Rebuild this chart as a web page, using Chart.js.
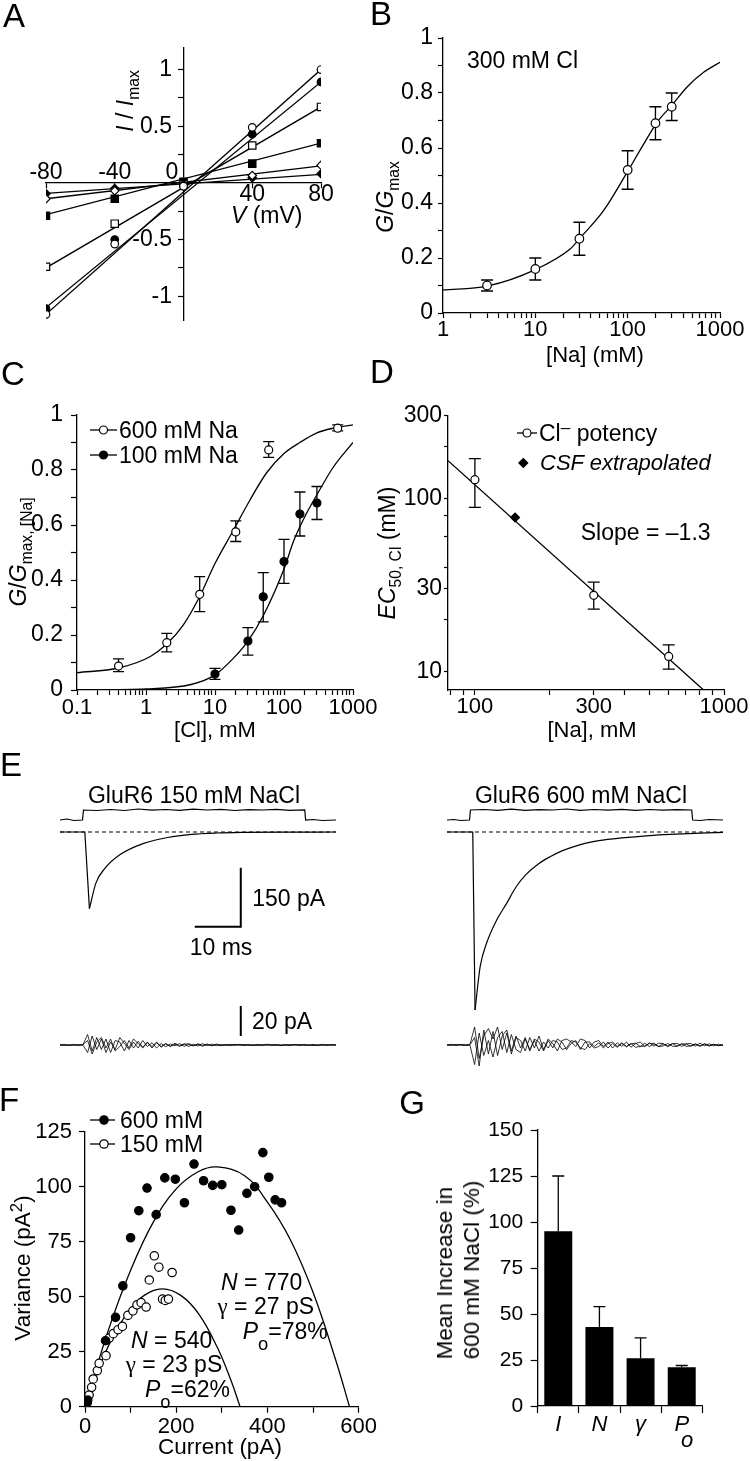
<!DOCTYPE html>
<html>
<head>
<meta charset="utf-8">
<title>GluR6 Na/Cl dependence</title>
<script src="https://cdn.jsdelivr.net/npm/chart.js@4.4.1/dist/chart.umd.min.js"></script>
<style>
html, body { margin:0; padding:0; background:#fff; }
#page { position:relative; width:750px; height:1461px; overflow:hidden; background:#fff; color:#000;
  font-family:'Liberation Sans', Arial, Helvetica, sans-serif; }
#page canvas { position:absolute; }
.t { position:absolute; white-space:nowrap; line-height:1; }
.sub { position:relative; top:0.38em; font-size:0.68em; }
.sup { position:relative; top:-0.45em; font-size:0.75em; }
.serif { font-family:'Liberation Serif', 'Times New Roman', serif; }
svg.mk { position:absolute; overflow:visible; }
</style>
</head>
<body>
<div id="page"></div>
<script>
// ================= DATA =================
// ---- Panel A : normalised I-V relations ----
const ivVoltage       = [-80, -40, 0, 40, 80];
const ivOpenCircle    = [-1.16, -0.54, -0.03, 0.49, 1.00];
const ivFilledCircle  = [-1.11, -0.50, -0.02, 0.43, 0.89];
const ivOpenSquare    = [-0.74, -0.36, -0.01, 0.33, 0.67];
const ivFilledSquare  = [-0.29, -0.14, 0.01, 0.17, 0.35];
const ivOpenDiamond   = [-0.14, -0.07, 0.00, 0.065, 0.155];
const ivFilledDiamond = [-0.095, -0.05, 0.00, 0.045, 0.08];
const ivFitVoltage       = [-80, 80];
const ivFitOpenCircle    = [-1.16, 1.00];
const ivFitFilledCircle  = [-1.10, 0.89];
const ivFitOpenSquare    = [-0.75, 0.67];
const ivFitFilledSquare  = [-0.28, 0.35];
const ivFitOpenDiamond   = [-0.14, 0.15];
const ivFitFilledDiamond = [-0.093, 0.075];
const ivXTicks  = [-80, -40, 0, 40, 80];
const ivYTicks  = [-1, -0.75, -0.5, -0.25, 0, 0.25, 0.5, 0.75, 1];
const ivYLabels = [-1, -0.5, 0.5, 1];

// ---- Panel B : G/Gmax vs [Na] at 300 mM Cl ----
const bNa     = [3, 10, 30, 100, 200, 300];
const bG      = [0.10, 0.16, 0.27, 0.52, 0.69, 0.75];
const bGLow   = [0.08, 0.12, 0.21, 0.45, 0.63, 0.70];
const bGHigh  = [0.12, 0.20, 0.33, 0.59, 0.75, 0.80];
const bFitNa  = [1, 3, 10, 24, 30, 55, 100, 150, 210, 300, 440, 670, 1000];
const bFitG   = [0.084, 0.098, 0.158, 0.234, 0.27, 0.373, 0.515, 0.616, 0.695, 0.755, 0.822, 0.876, 0.912];
const logTicks1to1000  = [1,2,3,4,5,6,7,8,9,10,20,30,40,50,60,70,80,90,100,200,300,400,500,600,700,800,900,1000];
const logLabels1to1000 = [1, 10, 100, 1000];
const unitTicks  = [0, 0.1, 0.2, 0.3, 0.4, 0.5, 0.6, 0.7, 0.8, 0.9, 1];
const unitLabels = [0, 0.2, 0.4, 0.6, 0.8, 1];

// ---- Panel C : G/Gmax,[Na] vs [Cl] ----
const c600Cl    = [0.4, 2, 6, 20, 60, 600];
const c600G     = [0.087, 0.172, 0.348, 0.575, 0.873, 0.952];
const c600GLow  = [0.067, 0.139, 0.285, 0.54, 0.846, 0.942];
const c600GHigh = [0.113, 0.206, 0.412, 0.615, 0.903, 0.964];
const c100Cl    = [10, 30, 50, 100, 170, 300];
const c100G     = [0.058, 0.178, 0.339, 0.467, 0.64, 0.68];
const c100GLow  = [0.039, 0.127, 0.248, 0.388, 0.56, 0.62];
const c100GHigh = [0.079, 0.227, 0.427, 0.548, 0.72, 0.74];
const c600FitCl = [0.1, 0.4, 1.14, 2, 3.46, 6, 10, 18.4, 32, 56, 100, 170, 300, 517, 1000];
const c600FitG  = [0.063, 0.08, 0.121, 0.167, 0.236, 0.34, 0.46, 0.58, 0.69, 0.79, 0.86, 0.90, 0.935, 0.952, 0.964];
const c100FitCl = [0.1, 1, 4.5, 10, 18.4, 30, 50, 100, 137, 200, 300, 517, 1000];
const c100FitG  = [0, 0.004, 0.02, 0.055, 0.115, 0.178, 0.27, 0.44, 0.54, 0.63, 0.71, 0.81, 0.9];
const logTicksC  = [0.1,0.2,0.3,0.4,0.5,0.6,0.7,0.8,0.9,1,2,3,4,5,6,7,8,9,10,20,30,40,50,60,70,80,90,100,200,300,400,500,600,700,800,900,1000];
const logLabelsC = [0.1, 1, 10, 100, 1000];

// ---- Panel D : EC50 for Cl vs [Na] ----
const dNa      = [100, 300, 600];
const dEC50    = [128, 27.5, 12.2];
const dEC50Low = [88.6, 22.9, 10.3];
const dEC50High= [169.5, 32.8, 14.2];
const dCsfNa   = [145];
const dCsfEC50 = [77.5];
const dFitNa   = [78, 828];
const dFitEC50 = [165, 7.8];
const dYTicks  = [10, 20, 30, 40, 60, 80, 100, 200, 300];
const dYLabels = [10, 30, 100, 300];
const dXTicks  = [80, 90, 100, 200, 300, 400, 500, 600, 700, 800, 900, 1000];
const dXLabels = [100, 300, 1000];

// ---- Panel E : currents (pA) vs time (ms) ----
const stimTimes  = [0, 1.5, 3, 4.9, 5.1, 8, 11, 14, 17, 20, 23, 26, 29, 32, 35, 38, 41, 44, 47, 50, 53.2, 53.4, 55, 57, 60];
const stimLeft   = [0, 0.1, -0.05, 0, 1.0, 0.95, 1.05, 0.95, 1.1, 0.98, 1.05, 0.97, 1.08, 1.0, 1.06, 0.95, 1.04, 1.0, 1.07, 0.96, 1.02, 0, 0.05, -0.05, 0];
const stimRight  = [0, 0.05, -0.05, 0, 1.0, 1.05, 0.97, 1.08, 0.96, 1.04, 1.0, 1.1, 0.96, 1.05, 0.98, 1.06, 0.97, 1.05, 0.99, 1.04, 1.0, 0, -0.05, 0.05, 0];
const baselineTimes = [0, 60];
const baselineLevel = [0, 0];
const curTimesLeft  = [0, 5.4, 6.4, 7.8, 9.8, 13, 18.2, 23.4, 28.6, 34, 40, 50, 60];
const curLeft       = [0, 0, -195, -130, -92, -58, -29, -14, -6, -2.5, -1, -0.3, 0];
const curTimesRight = [0, 5.6, 6.1, 7.2, 8.6, 10.8, 13, 15, 17.2, 20, 22.4, 25, 27.6, 30, 33, 38, 44, 48.5, 55, 60];
const curRight      = [0, 0, -453, -343, -283, -224, -181, -140, -108, -80, -63, -48, -37, -29, -22, -15, -9, -6, -3, -1];
const noiseTimes = [0,1,2,3,4,5,6,7,8,9,10,11,12,13,14,15,16,17,18,19,20,21,22,23,24,25,26,27,28,29,30,
                    31,32,33,34,35,36,37,38,39,40,41,42,43,44,45,46,47,48,49,50,51,52,53,54,55,56,57,58,59,60];
const noiseLeft1 = [0,0.3,-0.2,0.4,-0.3,0.2,7,-4,5,-3, 4,-5,3,2,-4,3,-2,2.5,-1.5,2, -2,1.5,-1,1,-0.8,1.2,-0.6,0.8,-1,0.5,
                    -0.7,0.9,-0.4,0.6,-0.5,0.3,-0.4,0.5,-0.3,0.4, -0.2,0.3,-0.4,0.2,-0.3,0.5,-0.2,0.3,-0.4,0.2, -0.3,0.4,-0.2,0.3,-0.3,0.2,-0.4,0.3,-0.2,0.3,0];
const noiseLeft2 = [0,-0.3,0.2,-0.2,0.3,-0.1,-5,6,-3,4, -5,2,-3,5,1,-3,2,-2,3,-1, 1.5,-2,1,-1.2,0.7,-0.5,1,-0.9,0.4,-0.6,
                    0.8,-0.3,0.7,-0.6,0.4,-0.5,0.3,-0.2,0.5,-0.3, 0.4,-0.3,0.2,-0.4,0.3,-0.2,0.4,-0.3,0.2,-0.3, 0.3,-0.2,0.4,-0.3,0.2,-0.4,0.2,-0.3,0.3,-0.2,0];
const noiseLeft3 = [0,0.2,-0.3,0.1,-0.2,0.3,3,-6,2,5, -2,4,-4,-1,3,-2,4,1,-2,1.5, -1,2,-1.5,0.8,-1,0.6,-0.8,0.5,0.9,-0.4,
                    0.5,-0.8,0.3,-0.4,0.6,-0.2,0.3,-0.4,0.2,0.3, -0.3,0.2,-0.2,0.4,-0.2,0.3,-0.3,0.2,-0.4,0.3, -0.2,0.3,-0.3,0.2,-0.2,0.3,-0.2,0.4,-0.3,0.2,0];
const noiseRight1 = [0,0.4,-0.3,0.3,-0.4,0.5,12,-9,6,11, 4,12,-3,8,-6,5,3,-4,5,-2, 6,-3,4,1,-4,3,4,2,-1,4,
                     3,-2,2,3,-1,2,-2,1.5,-1,2, -1.5,1,2,-1,1.5,-0.8,1.2,1,-1.2,0.8, 1.2,-1,0.8,1,-0.7,1.2,-0.5,0.8,-0.6,0.5,0];
const noiseRight2 = [0,-0.3,0.4,-0.2,0.3,-0.2,-13,8,-7,3, -8,5,9,-5,7,-3,-5,4,-3,3, -4,2,-2,3,2,-3,-2,3,2,-2,
                     -3,1,-2,-1,2,-2,1,-1.5,1,-1.2, 1,-1.5,-1,1.2,-1,0.8,-1.1,-0.6,1,-0.8, -1,0.7,-0.9,-0.6,0.8,-0.9,0.6,-0.7,0.5,-0.4,0];
const noiseRight3 = [0,0.2,-0.2,0.4,-0.3,0.2,5,-14,10,-6, 9,-7,6,10,-4,6,-2,5,-4,4, 2,-4,3,-2,4,2,-3,1,3,-3,
                     2,2,-1,1.5,-2,1,2,-1,1.5,-1, 0.8,1.2,-1,-0.7,1,1.1,-0.9,0.7,-0.6,1, -0.7,0.8,0.6,-0.8,0.5,-0.6,0.9,-0.5,0.4,-0.5,0];
const scaleBarStartMs = 29.3, scaleBarLenMs = 10;
const scaleBarBottomPA = -241, scaleBarLenPA = 150;
const noiseBarBottomPA = 6, noiseBarLenPA = 20;

// ---- Panel F : variance vs mean current ----
const f600Current  = [2, 6, 45, 67, 83, 100, 118, 136, 156, 175, 198, 218, 239, 260, 280, 300, 320, 337, 355, 372, 390, 403, 417, 431];
const f600Variance = [1, 3, 30, 40.6, 54.9, 76.8, 89.1, 99.4, 87.3, 104, 103.4, 92.7, 110.3, 102.7, 100.6, 100.9, 89.3, 80.3, 97, 100, 115.5, 104.3, 94, 92.7];
const f150Current  = [0, 5, 9, 14.5, 18, 27, 31, 46, 53, 62, 72.5, 82, 94, 105, 114, 123, 134, 141, 152, 162, 170, 176, 183, 191];
const f150Variance = [0, 1.8, 5.3, 8.8, 12.6, 16.4, 19.7, 23.2, 31.2, 33.2, 35, 36.5, 41.5, 43.6, 46.3, 47.3, 45.3, 57.6, 68.6, 63.4, 48.9, 48.3, 48.9, 61];
const f600FitCurrent  = [0, 50, 100, 150, 200, 250, 290, 350, 400, 450, 500, 550, 580];
const f600FitVariance = [0, 34, 62, 84, 99, 107, 109, 105, 93, 76, 52, 21, 0];
const f150FitCurrent  = [0, 25, 50, 75, 100, 130, 170, 210, 250, 290, 320, 340];
const f150FitVariance = [0, 15, 27, 37, 44.5, 50.6, 53.6, 50.6, 42, 27, 12, 0];
const fXTicks  = [0, 100, 200, 300, 400, 500, 600];
const fXLabels = [0, 200, 400, 600];
const fYTicks  = [0, 25, 50, 75, 100, 125];

// ---- Panel G : mean increase in 600 mM NaCl ----
const gCats         = ['I', 'N', 'γ', 'Po'];
const gMeanIncrease = [95, 43, 26, 21];
const gUpperError   = [125, 54, 37, 22];
const gYTicks       = [0, 25, 50, 75, 100, 125, 150];

// ================= HELPERS =================
const FONT = "'Liberation Sans', Arial, Helvetica, sans-serif";
Chart.defaults.font.family = FONT;
Chart.defaults.color = '#000';
Chart.defaults.animation = false;
Chart.defaults.responsive = false;
Chart.defaults.maintainAspectRatio = false;
Chart.defaults.events = [];
Chart.defaults.plugins.legend.display = false;
Chart.defaults.plugins.tooltip.enabled = false;

const errorBarPlugin = {
  id: 'errorBars',
  beforeDatasetsDraw(chart) {
    const ctx = chart.ctx;
    chart.data.datasets.forEach((ds, di) => {
      const eb = ds.errorBars;
      if (!eb) return;
      const meta = chart.getDatasetMeta(di);
      const ys = chart.scales[meta.yAxisID];
      ctx.save();
      ctx.strokeStyle = '#000';
      ctx.lineWidth = 1.3;
      ds.data.forEach((p, i) => {
        const el = meta.data[i];
        if (!el) return;
        const yv = (typeof p === 'object') ? p.y : p;
        const x = el.x;
        const yHi = ys.getPixelForValue(eb.hi[i]);
        const yLo = ys.getPixelForValue(eb.lo ? eb.lo[i] : yv);
        ctx.beginPath();
        ctx.moveTo(x, yLo); ctx.lineTo(x, yHi);
        ctx.moveTo(x - eb.cap, yHi); ctx.lineTo(x + eb.cap, yHi);
        if (eb.lo) { ctx.moveTo(x - eb.cap, yLo); ctx.lineTo(x + eb.cap, yLo); }
        ctx.stroke();
      });
      ctx.restore();
    });
  }
};
Chart.register(errorBarPlugin);

const page = document.getElementById('page');
function place(box) {
  const c = document.createElement('canvas');
  const w = box.r - box.l, h = box.b - box.t;
  c.width = w; c.height = h;
  c.style.left = box.l + 'px'; c.style.top = box.t + 'px';
  c.style.width = w + 'px'; c.style.height = h + 'px';
  page.appendChild(c);
  return c;
}
function framed(box, area) {
  return {
    canvas: place(box),
    padding: {left: 0, top: area.t - box.t, right: box.r - area.r, bottom: 0},
    leftW: area.l - box.l,
    bottomH: box.b - area.b
  };
}
const has = (list, v) => list.some(l => Math.abs(l - v) <= 1e-9 * Math.max(1, Math.abs(l)));
const labelIf = (list, fmt) => (v) => has(list, v) ? (fmt ? fmt(v) : String(v)) : '';

function sc(o) {
  const s = {
    type: o.type || 'linear',
    position: o.pos,
    ticks: {autoSkip: false, maxRotation: 0, minRotation: 0, padding: o.pad, color: '#000',
            font: {family: FONT, size: o.size, lineHeight: o.lh || 1, style: o.style || 'normal'}},
    grid: {display: true, drawOnChartArea: false, drawTicks: true, tickLength: o.tl, tickWidth: 1.2, tickColor: '#000'},
    border: {display: true, color: '#000', width: 1.3}
  };
  if (o.cb) s.ticks.callback = o.cb;
  if (o.min !== undefined) s.min = o.min;
  if (o.max !== undefined) s.max = o.max;
  if (o.ticksList) s.afterBuildTicks = a => { a.ticks = o.ticksList.map(v => ({value: v})); };
  if (o.w !== undefined) s.afterFit = a => { a.width = o.w; };
  if (o.h !== undefined) s.afterFit = a => { a.height = o.h; };
  return s;
}
const xy = (xs, ys) => xs.map((x, i) => ({x, y: ys[i]}));
function pts(xs, ys, style, fill, r, extra) {
  return Object.assign({
    data: xy(xs, ys), showLine: false,
    pointStyle: style, pointRadius: r, pointBackgroundColor: fill,
    pointBorderColor: '#000', pointBorderWidth: 1.2
  }, extra || {});
}
function line(xs, ys, extra) {
  return Object.assign({
    data: xy(xs, ys), showLine: true, pointRadius: 0,
    borderColor: '#000', borderWidth: 1.3, fill: false, tension: 0
  }, extra || {});
}

// text overlays
function txt(x, y, html, size, o) {
  o = o || {};
  const d = document.createElement('div');
  d.className = 't';
  d.style.left = x + 'px'; d.style.top = y + 'px';
  d.style.fontSize = size + 'px';
  let tf = o.anchor === 'left' ? 'translate(0,-50%)' : 'translate(-50%,-50%)';
  if (o.rot) tf += ' rotate(' + o.rot + 'deg)';
  d.style.transform = tf;
  if (o.italic) d.style.fontStyle = 'italic';
  if (o.lh) { d.style.lineHeight = o.lh + 'px'; }
  if (o.align) d.style.textAlign = o.align;
  d.innerHTML = html;
  page.appendChild(d);
}
const NS = 'http://www.w3.org/2000/svg';
function marker(x1, x2, cx, cy, shape, fill, r) {
  const s = document.createElementNS(NS, 'svg');
  s.setAttribute('class', 'mk');
  s.setAttribute('width', 1); s.setAttribute('height', 1);
  s.style.left = '0px'; s.style.top = '0px';
  if (x2 > x1) {
    const l = document.createElementNS(NS, 'line');
    l.setAttribute('x1', x1); l.setAttribute('x2', x2); l.setAttribute('y1', cy); l.setAttribute('y2', cy);
    l.setAttribute('stroke', '#000'); l.setAttribute('stroke-width', 1.3);
    s.appendChild(l);
  }
  let m;
  if (shape === 'circle') {
    m = document.createElementNS(NS, 'circle');
    m.setAttribute('cx', cx); m.setAttribute('cy', cy); m.setAttribute('r', r);
  } else {
    m = document.createElementNS(NS, 'polygon');
    m.setAttribute('points', `${cx - r},${cy} ${cx},${cy - r} ${cx + r},${cy} ${cx},${cy + r}`);
  }
  m.setAttribute('fill', fill); m.setAttribute('stroke', '#000'); m.setAttribute('stroke-width', 1.2);
  s.appendChild(m);
  page.appendChild(s);
}

// ================= PANEL A =================
(function () {
  const c = place({l: 0, t: 0, r: 370, b: 340});
  new Chart(c, {
    type: 'scatter',
    data: {datasets: [
      pts(ivVoltage, ivOpenCircle, 'circle', '#fff', 3.8),
      pts(ivVoltage, ivFilledCircle, 'circle', '#000', 3.8),
      pts(ivVoltage, ivOpenSquare, 'rect', '#fff', 5.2),
      pts(ivVoltage, ivFilledSquare, 'rect', '#000', 5.2),
      pts(ivVoltage, ivOpenDiamond, 'rectRot', '#fff', 4.2),
      pts(ivVoltage, ivFilledDiamond, 'rectRot', '#000', 4.2),
      line(ivFitVoltage, ivFitOpenCircle),
      line(ivFitVoltage, ivFitFilledCircle),
      line(ivFitVoltage, ivFitOpenSquare),
      line(ivFitVoltage, ivFitFilledSquare),
      line(ivFitVoltage, ivFitOpenDiamond),
      line(ivFitVoltage, ivFitFilledDiamond)
    ]},
    options: {
      layout: {padding: {left: 46, top: 48, right: 49, bottom: 20}},
      scales: {
        x: sc({min: -80, max: 80, pos: {y: 0}, ticksList: ivXTicks, size: 23, pad: -4.8, tl: 5,
               cb: v => v > 0 ? String(v) : ''}),
        xTop: {type: 'linear', axis: 'x', position: {y: 0}, min: -80, max: 80,
               afterBuildTicks: a => { a.ticks = ivXTicks.map(v => ({value: v})); },
               ticks: {autoSkip: false, maxRotation: 0, padding: -21.8, color: '#000', font: {size: 23, lineHeight: 1},
                       callback: v => v < 0 ? String(v) : (v === 0 ? '0\u2003' : '')},
               grid: {display: false, drawTicks: false}, border: {display: false}},
        y: sc({min: -1.21, max: 1.19, pos: {x: 0}, ticksList: ivYTicks, size: 23, pad: 0, tl: 5,
               cb: v => has(ivYLabels, v) ? String(v) + '\u2002' : ''})
      }
    }
  });
})();

// ================= PANEL B =================
(function () {
  const f = framed({l: 370, t: 0, r: 750, b: 345}, {l: 443, t: 38, r: 720, b: 313});
  new Chart(f.canvas, {
    type: 'scatter',
    data: {datasets: [
      pts(bNa, bG, 'circle', '#fff', 4.3, {errorBars: {lo: bGLow, hi: bGHigh, cap: 6}}),
      line(bFitNa, bFitG, {cubicInterpolationMode: 'monotone'})
    ]},
    options: {
      layout: {padding: f.padding},
      scales: {
        x: sc({type: 'logarithmic', pos: 'bottom', min: 1, max: 1000, ticksList: logTicks1to1000, size: 22, pad: 1, tl: 5,
               h: f.bottomH, cb: labelIf(logLabels1to1000)}),
        y: sc({pos: 'left', min: 0, max: 1, ticksList: unitTicks, size: 23, pad: 5, tl: 5, w: f.leftW, cb: labelIf(unitLabels)})
      }
    }
  });
})();

// ================= PANEL C =================
(function () {
  const f = framed({l: 0, t: 395, r: 380, b: 745}, {l: 77, t: 415, r: 353, b: 690});
  new Chart(f.canvas, {
    type: 'scatter',
    data: {datasets: [
      pts(c600Cl, c600G, 'circle', '#fff', 4, {errorBars: {lo: c600GLow, hi: c600GHigh, cap: 5.5}}),
      pts(c100Cl, c100G, 'circle', '#000', 4, {errorBars: {lo: c100GLow, hi: c100GHigh, cap: 5.5}}),
      line(c600FitCl, c600FitG, {cubicInterpolationMode: 'monotone'}),
      line(c100FitCl, c100FitG, {cubicInterpolationMode: 'monotone'})
    ]},
    options: {
      layout: {padding: f.padding},
      scales: {
        x: sc({type: 'logarithmic', pos: 'bottom', min: 0.1, max: 1000, ticksList: logTicksC, size: 22, pad: 2, tl: 5,
               h: f.bottomH, cb: labelIf(logLabelsC)}),
        y: sc({pos: 'left', min: 0, max: 1, ticksList: unitTicks, size: 23, pad: 8, tl: 6, w: f.leftW, cb: labelIf(unitLabels)})
      }
    }
  });
})();

// ================= PANEL D =================
(function () {
  const f = framed({l: 375, t: 395, r: 750, b: 745}, {l: 448, t: 415.7, r: 724, b: 690});
  new Chart(f.canvas, {
    type: 'scatter',
    data: {datasets: [
      pts(dCsfNa, dCsfEC50, 'rectRot', '#000', 4.4),
      pts(dNa, dEC50, 'circle', '#fff', 4, {errorBars: {lo: dEC50Low, hi: dEC50High, cap: 6}}),
      line(dFitNa, dFitEC50)
    ]},
    options: {
      layout: {padding: f.padding},
      scales: {
        x: sc({type: 'logarithmic', pos: 'bottom', min: 78, max: 1000, ticksList: dXTicks, size: 22, pad: 1, tl: 5,
               h: f.bottomH, cb: labelIf(dXLabels)}),
        y: sc({type: 'logarithmic', pos: 'left', min: 7.8, max: 300, ticksList: dYTicks, size: 23, pad: 2, tl: 4,
               w: f.leftW, cb: labelIf(dYLabels)})
      }
    }
  });
})();

// ================= PANEL E =================
function traceChart(box, xmin, xmax, datasets) {
  const c = place(box);
  return new Chart(c, {
    type: 'scatter',
    data: {datasets},
    options: {
      layout: {padding: 0},
      scales: {
        x:  {type: 'linear', display: false, min: xmin, max: xmax},
        yI: {type: 'linear', axis: 'y', display: false, min: -618.3, max: 208.7},
        yS: {type: 'linear', axis: 'y', display: false, min: -25.5, max: 7},
        yN: {type: 'linear', axis: 'y', display: false, min: -20, max: 196.7}
      }
    }
  });
}
function currentSets(times, values) {
  let k = 0;
  values.forEach((v, i) => { if (v < values[k]) k = i; });
  return [
    line(times.slice(0, k + 1), values.slice(0, k + 1), {yAxisID: 'yI', borderWidth: 1.2}),
    line(times.slice(k), values.slice(k), {yAxisID: 'yI', borderWidth: 1.2, cubicInterpolationMode: 'monotone'})
  ];
}
function noiseSet(vals) {
  return line(noiseTimes, vals, {yAxisID: 'yN', borderWidth: 0.8});
}
traceChart({l: 0, t: 750, r: 375, b: 1075}, -13.04, 68.48, [
  line(stimTimes, stimLeft, {yAxisID: 'yS', borderWidth: 1.2}),
  ...currentSets(curTimesLeft, curLeft),
  line(baselineTimes, baselineLevel, {yAxisID: 'yI', borderWidth: 1.1, borderDash: [4, 3]}),
  noiseSet(noiseLeft1), noiseSet(noiseLeft2), noiseSet(noiseLeft3),
  line([scaleBarStartMs, scaleBarStartMs + scaleBarLenMs, scaleBarStartMs + scaleBarLenMs],
       [scaleBarBottomPA, scaleBarBottomPA, scaleBarBottomPA + scaleBarLenPA], {yAxisID: 'yI', borderWidth: 2}),
  line([scaleBarStartMs + scaleBarLenMs, scaleBarStartMs + scaleBarLenMs],
       [noiseBarBottomPA, noiseBarBottomPA + noiseBarLenPA], {yAxisID: 'yN', borderWidth: 2})
]);
traceChart({l: 375, t: 750, r: 750, b: 1075}, -15.65, 65.87, [
  line(stimTimes, stimRight, {yAxisID: 'yS', borderWidth: 1.2}),
  ...currentSets(curTimesRight, curRight),
  line(baselineTimes, baselineLevel, {yAxisID: 'yI', borderWidth: 1.1, borderDash: [4, 3]}),
  noiseSet(noiseRight1), noiseSet(noiseRight2), noiseSet(noiseRight3)
]);

// ================= PANEL F =================
(function () {
  const f = framed({l: 0, t: 1110, r: 380, b: 1461}, {l: 85, t: 1131.7, r: 361.7, b: 1406.7});
  new Chart(f.canvas, {
    type: 'scatter',
    data: {datasets: [
      pts(f600Current, f600Variance, 'circle', '#000', 4.2),
      pts(f150Current, f150Variance, 'circle', '#fff', 4.2),
      line(f600FitCurrent, f600FitVariance, {tension: 0.4}),
      line(f150FitCurrent, f150FitVariance, {tension: 0.4})
    ]},
    options: {
      layout: {padding: f.padding},
      scales: {
        x: sc({pos: 'bottom', min: 0, max: 600, ticksList: fXTicks, size: 22, pad: 3, tl: 6, h: f.bottomH, cb: labelIf(fXLabels)}),
        y: sc({pos: 'left', min: 0, max: 125, ticksList: fYTicks, size: 22, pad: 7, tl: 6, w: f.leftW})
      }
    }
  });
})();

// ================= PANEL G =================
(function () {
  const f = framed({l: 400, t: 1110, r: 750, b: 1461}, {l: 537.7, t: 1130, r: 702.3, b: 1406});
  new Chart(f.canvas, {
    type: 'bar',
    data: {labels: gCats, datasets: [{
      data: gMeanIncrease, backgroundColor: '#000', borderWidth: 0,
      barPercentage: 0.68, categoryPercentage: 1,
      errorBars: {hi: gUpperError, cap: 6}
    }]},
    options: {
      layout: {padding: f.padding},
      scales: {
        x: sc({type: 'category', pos: 'bottom', size: 22, style: 'italic', lh: 0.7, pad: 4.3, tl: 7, h: f.bottomH,
               cb: (v, i) => gCats[i] === 'Po' ? ['P', '\u2002o'] : gCats[i]}),
        y: sc({pos: 'left', min: 0, max: 150, ticksList: gYTicks, size: 21, pad: 7.5, tl: 7, w: f.leftW})
      }
    }
  });
})();

// ================= TEXT =================
const S = s => '<span class="sub">' + s + '</span>';
// panel letters
txt(14, 15, 'A', 33); txt(381, 13, 'B', 33); txt(13, 373, 'C', 33); txt(382, 371, 'D', 33);
txt(11, 764, 'E', 33); txt(9, 1099, 'F', 33); txt(412, 1102, 'G', 33);
// A
txt(266.7, 215, '<i>V</i> (mV)', 23);
txt(125, 101, '<i>I</i> / <i>I</i>' + S('max'), 23, {rot: -90});
// B
txt(522.5, 60, '300 mM Cl', 23);
txt(385, 197, '<i>G</i>/<i>G</i>' + S('max'), 23, {rot: -90});
txt(595, 355, '[Na] (mM)', 22);
// C
txt(18, 552, '<i>G</i>/<i>G</i>' + S('max, [Na]'), 23, {rot: -90});
txt(215, 730, '[Cl], mM', 22);
marker(90, 117, 103.5, 430, 'circle', '#fff', 4);
txt(119, 430, '600 mM Na', 23, {anchor: 'left'});
marker(90, 117, 103.5, 455, 'circle', '#000', 4);
txt(119, 455, '100 mM Na', 23, {anchor: 'left'});
// D
txt(387, 553, '<i>EC</i>' + S('50, Cl') + ' (mM)', 23, {rot: -90});
txt(592, 730, '[Na], mM', 22);
marker(517, 537, 527, 433, 'circle', '#fff', 4);
txt(539, 433, 'Cl<span class="sup">\u2013</span> potency', 23, {anchor: 'left'});
marker(0, 0, 523.3, 463, 'diamond', '#000', 4.4);
txt(540, 463, 'CSF extrapolated', 22, {anchor: 'left', italic: true});
txt(645.7, 531.5, 'Slope = \u20131.3', 23);
// E
txt(194, 795, 'GluR6 150 mM NaCl', 23);
txt(581, 795, 'GluR6 600 mM NaCl', 23);
txt(288.7, 898, '150 pA', 23);
txt(221, 947, '10 ms', 23);
txt(282, 1021, '20 pA', 23);
// F
marker(90, 115, 104, 1120, 'circle', '#000', 4.2);
txt(120, 1120, '600 mM', 23, {anchor: 'left'});
marker(90, 115, 104, 1144, 'circle', '#fff', 4.2);
txt(120, 1144, '150 mM', 23, {anchor: 'left'});
txt(22.5, 1268, 'Variance (pA<span class="sup">2</span>)', 22.5, {rot: -90});
txt(220, 1447, 'Current (pA)', 22.5);
txt(261.7, 1282, '<i>N</i> = 770', 23);
txt(265.8, 1306, '<span class="serif">\u03b3</span> = 27 pS', 23);
txt(242.7, 1331, '<i>P</i><span class="sub" style="top:0.6em;font-size:0.8em">o</span>=78%', 23, {anchor: 'left'});
txt(171.7, 1339.5, '<i>N</i> = 540', 23);
txt(174, 1364, '<span class="serif">\u03b3</span> = 23 pS', 23);
txt(145, 1388.5, '<i>P</i><span class="sub" style="top:0.6em;font-size:0.8em">o</span>=62%', 23, {anchor: 'left'});
// G
txt(458, 1270, 'Mean Increase in<br>600 mM NaCl (%)', 22.5, {rot: -90, lh: 27, align: 'left'});
</script>
</body>
</html>
